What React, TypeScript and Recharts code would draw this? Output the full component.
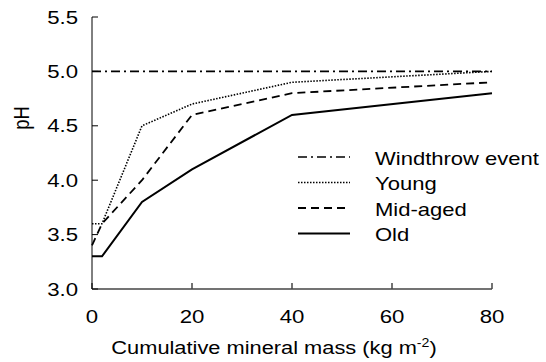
import { LineChart, Line, XAxis, YAxis, Legend, Label } from 'recharts';

const massKg = [0, 2, 10, 20, 40, 80];
const windthrowPh = [5.0, 5.0, 5.0, 5.0, 5.0, 5.0];
const youngPh = [3.6, 3.6, 4.5, 4.7, 4.9, 5.0];
const midAgedPh = [3.4, 3.6, 4.0, 4.6, 4.8, 4.9];
const oldPh = [3.3, 3.3, 3.8, 4.1, 4.6, 4.8];

const xTicks = [0, 20, 40, 60, 80];
const yTicks = [3.0, 3.5, 4.0, 4.5, 5.0, 5.5];

const FONT = '"Liberation Sans", Arial, sans-serif';
const FS = 18.5;
// the original figure is a bit wider than tall, text is stretched sideways
const SX = 1.2;

const series = [
  { key: 'windthrow', name: 'Windthrow event', dash: '9 4 2 4', width: 1.6 },
  { key: 'young', name: 'Young', dash: '1.5 1.5', width: 1.6 },
  { key: 'mid', name: 'Mid-aged', dash: '8 5', width: 1.8 },
  { key: 'old', name: 'Old', dash: undefined, width: 2 },
];

const data = massKg.map((x, i) => ({
  x,
  windthrow: windthrowPh[i],
  young: youngPh[i],
  mid: midAgedPh[i],
  old: oldPh[i],
}));

function StretchText({ x, y, anchor, dy, sx = SX, children }: any) {
  return (
    <g transform={`translate(${x},${y}) scale(${sx},1)`}>
      <text x={0} y={0} dy={dy} textAnchor={anchor} fontFamily={FONT} fontSize={FS} fill="#000">
        {children}
      </text>
    </g>
  );
}

const XTick = (props: any) => (
  <StretchText x={props.x} y={props.y} anchor="middle" dy="0.71em">
    {props.payload.value}
  </StretchText>
);

const YTick = (props: any) => (
  <StretchText x={props.x} y={props.y} anchor="end" dy="0.355em">
    {Number(props.payload.value).toFixed(1)}
  </StretchText>
);

function renderLegend() {
  return (
    <svg width={256} height={110} style={{ overflow: 'visible' }}>
      {series.map((s, i) => {
        const y = 14 + i * 25.5;
        return (
          <g key={s.key}>
            <line x1={8} x2={60} y1={y} y2={y} stroke="#000" strokeWidth={s.width} strokeDasharray={s.dash} />
            <StretchText x={85} y={y + 1} anchor="start" dy="0.355em" sx={1.19}>
              {s.name}
            </StretchText>
          </g>
        );
      })}
    </svg>
  );
}

export default function App() {
  return (
    <div style={{ position: 'absolute', left: 0, top: 0, background: '#fff' }}>
      <LineChart width={546} height={362} data={data} margin={{ top: 17, right: 54, left: 0, bottom: 0 }}>
        <XAxis
          dataKey="x"
          type="number"
          domain={[0, 80]}
          ticks={xTicks}
          height={73}
          tickSize={-6}
          tickMargin={27}
          stroke="#444"
          strokeWidth={1.5}
          tick={XTick}
        >
          <Label
            content={() => (
              <g transform="translate(274,354) scale(1.18,1)">
                <text x={0} y={0} textAnchor="middle" fontFamily={FONT} fontSize={FS} fill="#000">
                  Cumulative mineral mass (kg m
                  <tspan dy={-7} fontSize={12}>-2</tspan>
                  <tspan dy={7}>)</tspan>
                </text>
              </g>
            )}
          />
        </XAxis>
        <YAxis
          type="number"
          domain={[3, 5.5]}
          ticks={yTicks}
          width={92}
          tickSize={-6}
          tickMargin={20}
          stroke="#000"
          tick={YTick}
        >
          <Label
            content={() => (
              <g transform={`translate(21,118) scale(${SX},1) rotate(-90)`}>
                <text x={0} y={0} textAnchor="middle" dominantBaseline="central" fontFamily={FONT} fontSize={FS} fill="#000">
                  pH
                </text>
              </g>
            )}
          />
        </YAxis>
        {series.map((s) => (
          <Line
            key={s.key}
            dataKey={s.key}
            name={s.name}
            type="linear"
            stroke="#000"
            strokeWidth={s.width}
            strokeDasharray={s.dash}
            dot={false}
            activeDot={false}
            isAnimationActive={false}
          />
        ))}
        <Legend
          layout="vertical"
          align="center"
          verticalAlign="middle"
          content={renderLegend}
          wrapperStyle={{ position: 'absolute', left: 290, top: 143, width: 256, height: 110 }}
        />
      </LineChart>
    </div>
  );
}
